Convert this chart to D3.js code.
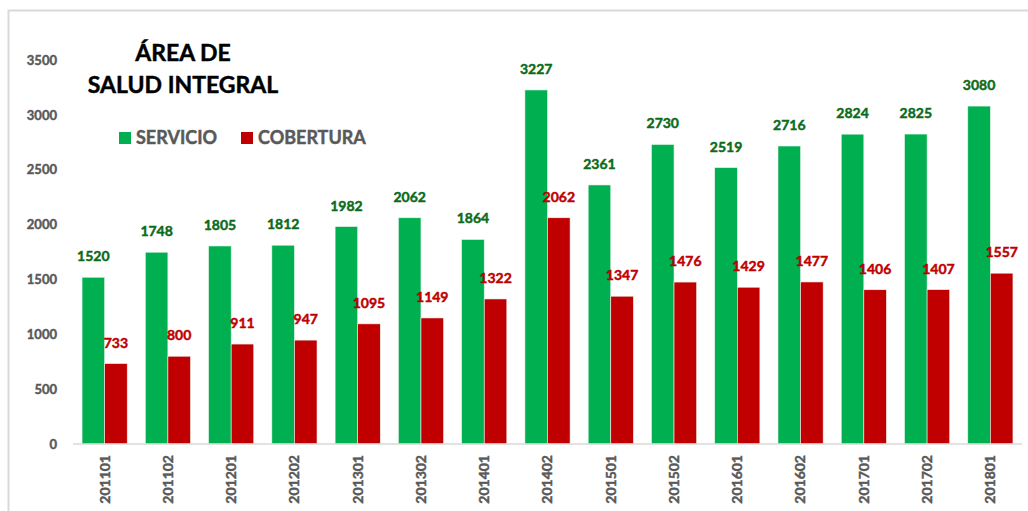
<!DOCTYPE html>
<html>
<head>
<meta charset="utf-8">
<script src="https://cdn.jsdelivr.net/npm/d3@7"></script>
<style>
  html, body { margin: 0; padding: 0; background: #fff; }
  svg { display: block; }
  text { font-family: Lato, "Open Sans", sans-serif; font-weight: bold; stroke-width: 0.45px; }
</style>
</head>
<body>
<svg id="chart" width="1028" height="511"></svg>
<script>
// Periods (year + semester)
const periods = ["201101","201102","201201","201202","201301","201302","201401","201402",
                 "201501","201502","201601","201602","201701","201702","201801"];
// Attendance by service
const servicio = [1520,1748,1805,1812,1982,2062,1864,3227,2361,2730,2519,2716,2824,2825,3080];
// Coverage
const cobertura = [733,800,911,947,1095,1149,1322,2062,1347,1476,1429,1477,1406,1407,1557];
const yTicks = [0,500,1000,1500,2000,2500,3000,3500];
const seriesNames = ["SERVICIO","COBERTURA"];
const titleLines = ["ÁREA DE","SALUD INTEGRAL"];

const colors = { SERVICIO: "#00b050", COBERTURA: "#c00000" };
const labelColors = { SERVICIO: "#0b6b1a", COBERTURA: "#c00000" };

const svg = d3.select("#chart");
const W = 1028, H = 511;
const plot = { left: 73, right: 1022, top: 60, bottom: 444 };

// chart frame
svg.append("rect")
  .attr("x", 8.5).attr("y", 10.5)
  .attr("width", W + 20).attr("height", H + 20)
  .attr("fill", "#fff").attr("stroke", "#d9d9d9").attr("stroke-width", 2);

const x0 = d3.scaleBand().domain(periods).range([plot.left, plot.right]).paddingInner(0.286).paddingOuter(0.143);
const x1 = d3.scaleBand().domain(seriesNames).range([0, x0.bandwidth()]);
const y = d3.scaleLinear().domain([0, 3500]).range([plot.bottom, plot.top]);

const rows = periods.map((p, i) => ({ period: p, SERVICIO: servicio[i], COBERTURA: cobertura[i] }));

// y axis labels (no line, no ticks)
const yAxis = svg.append("g")
  .attr("transform", `translate(${plot.left},0)`)
  .call(d3.axisLeft(y).tickValues(yTicks).tickSize(0).tickPadding(16).tickFormat(d3.format("d")));
yAxis.select(".domain").remove();
yAxis.selectAll("text")
  .attr("fill", "#595959").attr("stroke", "#595959").style("font-size", "13px")
  .style("font-family", "Lato, sans-serif").style("font-weight", "bold");

// bars
const groups = svg.append("g").selectAll("g")
  .data(rows).join("g")
  .attr("transform", d => `translate(${x0(d.period)},0)`);

groups.selectAll("rect")
  .data(d => seriesNames.map(k => ({ key: k, value: d[k] })))
  .join("rect")
  .attr("x", d => x1(d.key))
  .attr("y", d => y(d.value))
  .attr("width", x1.bandwidth())
  .attr("height", d => y(0) - y(d.value))
  .attr("fill", d => colors[d.key])
  .attr("stroke", "#e8f5ec").attr("stroke-width", 0.6);

groups.selectAll("text.val")
  .data(d => seriesNames.map(k => ({ key: k, value: d[k] })))
  .join("text")
  .attr("class", "val")
  .attr("x", d => x1(d.key) + x1.bandwidth() / 2)
  .attr("y", d => y(d.value) - 16)
  .attr("text-anchor", "middle")
  .attr("fill", d => labelColors[d.key])
  .attr("stroke", d => labelColors[d.key])
  .style("font-size", "14px")
  .text(d => d.value);

// x axis
const xAxis = svg.append("g")
  .attr("transform", `translate(0,${plot.bottom})`)
  .call(d3.axisBottom(x0).tickSize(0).tickPadding(0));
xAxis.select(".domain").attr("stroke", "#d9d9d9").attr("stroke-width", 1.5)
  .attr("d", `M${plot.left},0H${plot.right}`);
xAxis.selectAll("text")
  .attr("transform", "rotate(-90)")
  .attr("x", -11).attr("y", 0).attr("dy", "0.35em")
  .attr("text-anchor", "end")
  .attr("fill", "#595959").attr("stroke", "#595959").style("font-size", "14px")
  .style("font-family", "Lato, sans-serif").style("font-weight", "bold");

// title
svg.append("text")
  .attr("x", 183).attr("y", 0)
  .attr("text-anchor", "middle")
  .attr("fill", "#000").attr("stroke", "#000").style("font-size", "23px")
  .selectAll("tspan").data(titleLines).join("tspan")
  .attr("x", 183).attr("y", (d, i) => 61 + i * 32)
  .text(d => d);

// legend
const legendX = [119, 241];
const legend = svg.append("g").selectAll("g")
  .data(seriesNames).join("g")
  .attr("transform", (d, i) => `translate(${legendX[i]},132)`);
legend.append("rect").attr("width", 12).attr("height", 12).attr("fill", d => colors[d]);
legend.append("text").attr("x", 17).attr("y", 6).attr("dy", "0.36em")
  .attr("fill", "#595959").attr("stroke", "#595959").style("font-size", "18px").text(d => d);
</script>
</body>
</html>
